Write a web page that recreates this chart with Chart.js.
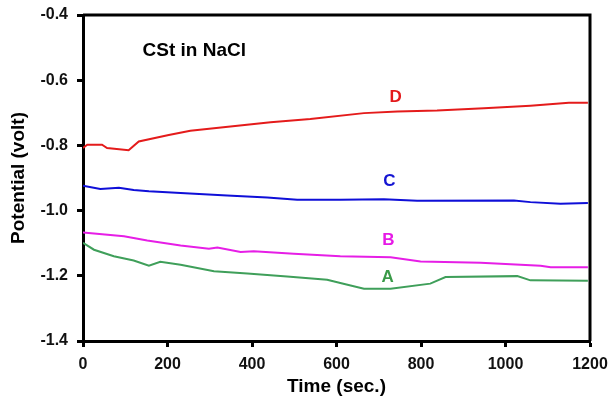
<!DOCTYPE html>
<html lang="en">
<head>
    <meta charset="UTF-8">
    <title>CSt in NaCl</title>
    <script src="https://cdn.jsdelivr.net/npm/chart.js"></script>
    <style>
        html, body { margin: 0; padding: 0; background: #fff; }
        #wrap { width: 608px; height: 402px; }
    </style>
</head>
<body>
    <div id="wrap"><canvas id="chart"></canvas></div>

    <script>
        // curve A (green)
        var timeA = [0, 26, 73, 120, 156, 183, 231, 310, 389, 483, 578, 609, 665, 728, 822, 858, 1028, 1059, 1195];
        var potA = [-1.099, -1.120, -1.140, -1.153, -1.169, -1.157, -1.166, -1.186, -1.193, -1.202, -1.212, -1.222, -1.240, -1.240, -1.224, -1.204, -1.201, -1.214, -1.215];
        // curve B (magenta)
        var timeB = [0, 97, 152, 231, 298, 318, 373, 404, 499, 609, 728, 799, 941, 1083, 1107, 1195];
        var potB = [-1.067, -1.079, -1.092, -1.107, -1.117, -1.113, -1.127, -1.125, -1.132, -1.140, -1.143, -1.156, -1.160, -1.169, -1.174, -1.174];
        // curve C (blue)
        var timeC = [0, 41, 85, 120, 156, 231, 341, 436, 507, 609, 712, 791, 1020, 1059, 1130, 1195];
        var potC = [-0.924, -0.934, -0.930, -0.937, -0.941, -0.946, -0.954, -0.960, -0.967, -0.967, -0.965, -0.970, -0.969, -0.974, -0.979, -0.977];
        // curve D (red)
        var timeD = [0, 10, 45, 57, 108, 132, 203, 254, 444, 538, 665, 744, 838, 949, 1059, 1150, 1195];
        var potD = [-0.808, -0.798, -0.798, -0.808, -0.815, -0.788, -0.768, -0.755, -0.729, -0.719, -0.701, -0.696, -0.693, -0.686, -0.678, -0.669, -0.669];

        var xTicks = [0, 200, 400, 600, 800, 1000, 1200];
        var yTicks = [-0.4, -0.6, -0.8, -1.0, -1.2, -1.4];

        // text put on the plot, in data units
        var curveLabels = ['A', 'B', 'C', 'D'];
        var labelTime = [721, 723, 725, 740];
        var labelPot = [-1.206, -1.092, -0.911, -0.651];
        var labelColors = ['#3a9a48', '#e619e6', '#1414d2', '#e31a1c'];
        var noteText = 'CSt in NaCl';
        var noteTime = 141;
        var notePot = -0.510;

        function points(t, v) {
            return t.map(function (x, i) { return { x: x, y: v[i] }; });
        }

        var seriesTimes = [timeA, timeB, timeC, timeD];
        var seriesPots = [potA, potB, potC, potD];
        var lineColors = ['#3f9f5a', '#e61ee6', '#0f0fd8', '#e41b1b'];

        var datasets = seriesTimes.map(function (t, i) {
            return {
                label: curveLabels[i],
                data: points(t, seriesPots[i]),
                borderColor: lineColors[i],
                borderWidth: 2,
                pointRadius: 0,
                tension: 0,
                fill: false
            };
        });

        var boldFont = 'Liberation Sans, Arial, sans-serif';

        // frame on top/right plus the curve letters and the note
        var extras = {
            id: 'extras',
            afterDatasetsDraw: function (chart) {
                var ctx = chart.ctx;
                var xs = chart.scales.x;
                var ys = chart.scales.y;
                var a = chart.chartArea;
                ctx.save();
                ctx.strokeStyle = '#000';
                ctx.lineWidth = 3;
                ctx.beginPath();
                ctx.moveTo(a.left, a.top);
                ctx.lineTo(a.right, a.top);
                ctx.lineTo(a.right, a.bottom);
                ctx.stroke();

                ctx.textBaseline = 'middle';
                ctx.textAlign = 'center';
                ctx.font = 'bold 17px ' + boldFont;
                curveLabels.forEach(function (s, i) {
                    ctx.fillStyle = labelColors[i];
                    ctx.fillText(s, xs.getPixelForValue(labelTime[i]), ys.getPixelForValue(labelPot[i]));
                });
                ctx.textAlign = 'left';
                ctx.fillStyle = '#000';
                ctx.font = 'bold 19px ' + boldFont;
                ctx.fillText(noteText, xs.getPixelForValue(noteTime), ys.getPixelForValue(notePot));
                ctx.restore();
            }
        };

        new Chart(document.getElementById('chart'), {
            type: 'line',
            data: { datasets: datasets },
            options: {
                responsive: true,
                maintainAspectRatio: false,
                animation: false,
                layout: { padding: { left: 0, top: 15, right: 18, bottom: 0 } },
                plugins: {
                    legend: { display: false },
                    tooltip: { enabled: false }
                },
                scales: {
                    x: {
                        type: 'linear',
                        min: 0,
                        max: 1200,
                        afterBuildTicks: function (s) { s.ticks = xTicks.map(function (v) { return { value: v }; }); },
                        afterFit: function (s) {
                            s.height = 61;
                            s.paddingLeft = 0;
                            s.paddingRight = 0;
                        },
                        border: { color: '#000', width: 3 },
                        grid: { drawOnChartArea: false, drawTicks: true, tickLength: 6, tickColor: '#000', tickWidth: 3 },
                        ticks: {
                            color: '#111',
                            padding: 8,
                            maxRotation: 0,
                            font: { family: boldFont, size: 16, weight: 'bold' },
                            callback: function (v) { return String(v); }
                        },
                        title: {
                            display: true,
                            text: 'Time (sec.)',
                            color: '#000',
                            padding: { top: 0, bottom: 4 },
                            font: { family: boldFont, size: 19, weight: 'bold' }
                        }
                    },
                    y: {
                        type: 'linear',
                        min: -1.4,
                        max: -0.4,
                        afterBuildTicks: function (s) { s.ticks = yTicks.map(function (v) { return { value: v }; }); },
                        afterFit: function (s) {
                            s.width = 83;
                            s.paddingTop = 0;
                            s.paddingBottom = 0;
                        },
                        border: { color: '#000', width: 3 },
                        grid: { drawOnChartArea: false, drawTicks: true, tickLength: 6, tickColor: '#000', tickWidth: 3 },
                        ticks: {
                            color: '#111',
                            padding: 9,
                            font: { family: boldFont, size: 16, weight: 'bold' },
                            callback: function (v) { return Number(v).toFixed(1); }
                        },
                        title: {
                            display: true,
                            text: 'Potential (volt)',
                            color: '#000',
                            padding: { top: 7, bottom: 0 },
                            font: { family: boldFont, size: 19, weight: 'bold' }
                        }
                    }
                }
            },
            plugins: [extras]
        });
    </script>
</body>
</html>
